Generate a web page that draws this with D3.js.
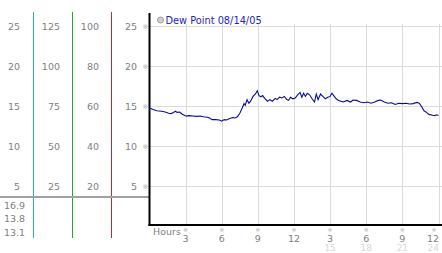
<!DOCTYPE html>
<html>
<head>
<meta charset="utf-8">
<script src="https://cdn.jsdelivr.net/npm/d3@7"></script>
<style>
  body { margin: 0; background: #fff; }
  svg { display: block; font-family: "DejaVu Sans", Verdana, sans-serif; }
</style>
</head>
<body>
<svg id="chart" width="442" height="253"></svg>
<script>
// dew point readings, hours since midnight
const hours = [0.0, 0.3, 0.6, 1.0, 1.3, 1.6, 1.8, 2.0, 2.15, 2.3, 2.5, 2.7, 3.0, 3.3, 3.6, 3.9, 4.2, 4.5, 4.8, 5.0,
  5.2, 5.5, 5.8, 6.0, 6.2, 6.4, 6.6, 6.9, 7.1, 7.3, 7.5, 7.7, 7.85, 7.95, 8.1, 8.25, 8.4, 8.6, 8.8, 8.95,
  9.1, 9.25, 9.4, 9.6, 9.8, 10.0, 10.2, 10.45, 10.6, 10.8, 11.0, 11.2, 11.4, 11.55, 11.7, 11.9, 12.1, 12.3, 12.5, 12.65,
  12.8, 12.95, 13.1, 13.3, 13.5, 13.7, 13.85, 14.0, 14.2, 14.4, 14.6, 14.8, 15.0, 15.15, 15.3, 15.5, 15.7, 15.9, 16.1, 16.4,
  16.7, 16.9, 17.2, 17.5, 17.8, 18.1, 18.4, 18.7, 19.0, 19.2, 19.5, 19.8, 20.1, 20.4, 20.7, 21.0, 21.3, 21.6, 21.9, 22.2,
  22.4, 22.6, 22.8, 23.0, 23.2, 23.5, 23.7, 23.85, 24.0];
const dewPoint = [14.75, 14.55, 14.4, 14.35, 14.25, 14.1, 14.05, 14.2, 14.35, 14.2, 14.25, 14.0, 13.75, 13.8, 13.75, 13.7, 13.75, 13.65, 13.6, 13.5,
  13.3, 13.3, 13.25, 13.1, 13.3, 13.25, 13.4, 13.55, 13.5, 13.65, 14.1, 14.75, 15.3, 15.1, 15.8, 15.35, 15.6, 16.2, 16.5, 16.9,
  16.3, 16.15, 16.3, 15.9, 15.6, 15.8, 15.6, 15.95, 15.8, 16.1, 16.0, 16.2, 15.8, 15.7, 16.1, 15.9, 16.0, 16.4, 16.7, 16.1,
  16.6, 16.2, 16.6, 16.4, 15.9, 15.5, 16.5, 15.8, 16.5, 16.2, 15.9, 16.1, 16.2, 16.6, 16.3, 15.9, 15.7, 15.6, 15.5, 15.7,
  15.5, 15.75, 15.7, 15.5, 15.4, 15.5, 15.35, 15.5, 15.7, 15.75, 15.5, 15.35, 15.4, 15.2, 15.35, 15.3, 15.35, 15.25, 15.3, 15.45,
  15.35, 14.9, 14.4, 14.2, 13.95, 13.85, 13.8, 13.9, 13.8];

const legendLabel = "Dew Point 08/14/05";
const yTicks = [5, 10, 15, 20, 25];
// the three extra scales printed in the left panel
const colA = [5, 10, 15, 20, 25];
const colB = [25, 50, 75, 100, 125];
const colC = [20, 40, 60, 80, 100];
const colD = [5, 10, 15, 20, 25];
const statLabels = ["16.9", "13.8", "13.1"];
const xTicks = [3, 6, 9, 12, 15, 18, 21, 24];
const xTickLabels = ["3", "6", "9", "12", "3", "6", "9", "12"];
const xTickLabels24 = ["", "", "", "", "15", "18", "21", "24"];

const svg = d3.select("#chart");

const x = d3.scaleLinear().domain([0, 24]).range([149.5, 438.5]);
const y = d3.scaleLinear().domain([0, 25]).range([226, 26]);

const leftX = 149.5, bottomY = 225;

// gridlines
svg.append("g")
    .selectAll("line")
    .data(yTicks)
    .enter().append("line")
    .attr("x1", leftX).attr("x2", 442)
    .attr("y1", d => Math.round(y(d)) + 0.5).attr("y2", d => Math.round(y(d)) + 0.5)
    .attr("stroke", "#dcdcdc");

svg.append("g")
    .selectAll("line")
    .data(xTicks)
    .enter().append("line")
    .attr("x1", d => Math.round(x(d)) + 0.5).attr("x2", d => Math.round(x(d)) + 0.5)
    .attr("y1", 24).attr("y2", bottomY)
    .attr("stroke", "#dcdcdc");

// left panel columns
const cols = [
    { vals: colA, right: 20 },
    { vals: colB, right: 60 },
    { vals: colC, right: 99 },
    { vals: colD, right: 137 }
];
cols.forEach(c => {
    svg.append("g")
        .selectAll("text")
        .data(c.vals)
        .enter().append("text")
        .attr("x", c.right)
        .attr("y", (d, i) => y(yTicks[i]) + 3.5)
        .attr("text-anchor", "end")
        .attr("font-size", 9.5)
        .attr("fill", "#808080")
        .text(d => d);
});

// small tick glyphs next to the y axis
svg.append("g")
    .selectAll("text")
    .data(yTicks)
    .enter().append("text")
    .attr("x", 145.5)
    .attr("y", d => y(d) + 2.5)
    .attr("text-anchor", "middle")
    .attr("font-size", 7)
    .attr("fill", "#b0b0b0")
    .text("※");

const sepColors = ["#29a8dc", "#2ea02e", "#c8282d"];
const sepX = [33.5, 72.5, 111.5];
svg.append("g")
    .selectAll("line")
    .data(sepColors)
    .enter().append("line")
    .attr("x1", (d, i) => sepX[i]).attr("x2", (d, i) => sepX[i])
    .attr("y1", 12).attr("y2", 238)
    .attr("stroke", d => d);

svg.append("line")
    .attr("x1", 0).attr("x2", leftX)
    .attr("y1", 197).attr("y2", 197)
    .attr("stroke", "#a0a0a0").attr("stroke-width", 2);

svg.append("g")
    .selectAll("text")
    .data(statLabels)
    .enter().append("text")
    .attr("x", 4)
    .attr("y", (d, i) => 208.5 + i * 13.7)
    .attr("font-size", 9.5)
    .attr("fill", "#808080")
    .text(d => d);

// axes
svg.append("line")
    .attr("x1", leftX).attr("x2", leftX)
    .attr("y1", 13).attr("y2", bottomY + 1)
    .attr("stroke", "#000").attr("stroke-width", 2);
svg.append("line")
    .attr("x1", leftX - 1).attr("x2", 442)
    .attr("y1", bottomY).attr("y2", bottomY)
    .attr("stroke", "#000").attr("stroke-width", 2);

// x tick glyphs + labels
const last = xTicks.length - 1;
const labelX = (d, i) => i === last ? 439 : x(d);
const labelAnchor = (d, i) => i === last ? "end" : "middle";

const xt = svg.append("g");
xt.selectAll("text.glyph")
    .data(xTicks)
    .enter().append("text")
    .attr("class", "glyph")
    .attr("x", (d, i) => i === last ? 434 : x(d))
    .attr("y", 232)
    .attr("text-anchor", "middle")
    .attr("font-size", 6)
    .attr("fill", "#b0b0b0")
    .text("※");
xt.selectAll("text.lbl24")
    .data(xTicks)
    .enter().append("text")
    .attr("class", "lbl24")
    .attr("x", labelX)
    .attr("y", 250.5)
    .attr("text-anchor", labelAnchor)
    .attr("font-size", 9)
    .attr("fill", "#d8d8d8")
    .text((d, i) => xTickLabels24[i]);
xt.selectAll("text.lbl")
    .data(xTicks)
    .enter().append("text")
    .attr("class", "lbl")
    .attr("x", labelX)
    .attr("y", 242)
    .attr("text-anchor", labelAnchor)
    .attr("font-size", 9.5)
    .attr("fill", "#808080")
    .text((d, i) => xTickLabels[i]);

svg.append("text")
    .attr("x", 153).attr("y", 235)
    .attr("font-size", 9.5)
    .attr("fill", "#808080")
    .text("Hours");

// dew point line
const line = d3.line()
    .x(d => x(d[0]))
    .y(d => y(d[1]));
svg.append("path")
    .datum(hours.map((h, i) => [h, dewPoint[i]]))
    .attr("d", line)
    .attr("fill", "none")
    .attr("stroke", "#0a0aa0")
    .attr("stroke-width", 1.1);

// legend
svg.append("circle")
    .attr("cx", 160.5).attr("cy", 20)
    .attr("r", 3)
    .attr("fill", "#d0d0d0").attr("stroke", "#a0a0a0");
svg.append("text")
    .attr("x", 165.5).attr("y", 23.5)
    .attr("font-size", 9.8)
    .attr("fill", "#2323c8")
    .text(legendLabel);
</script>
</body>
</html>
